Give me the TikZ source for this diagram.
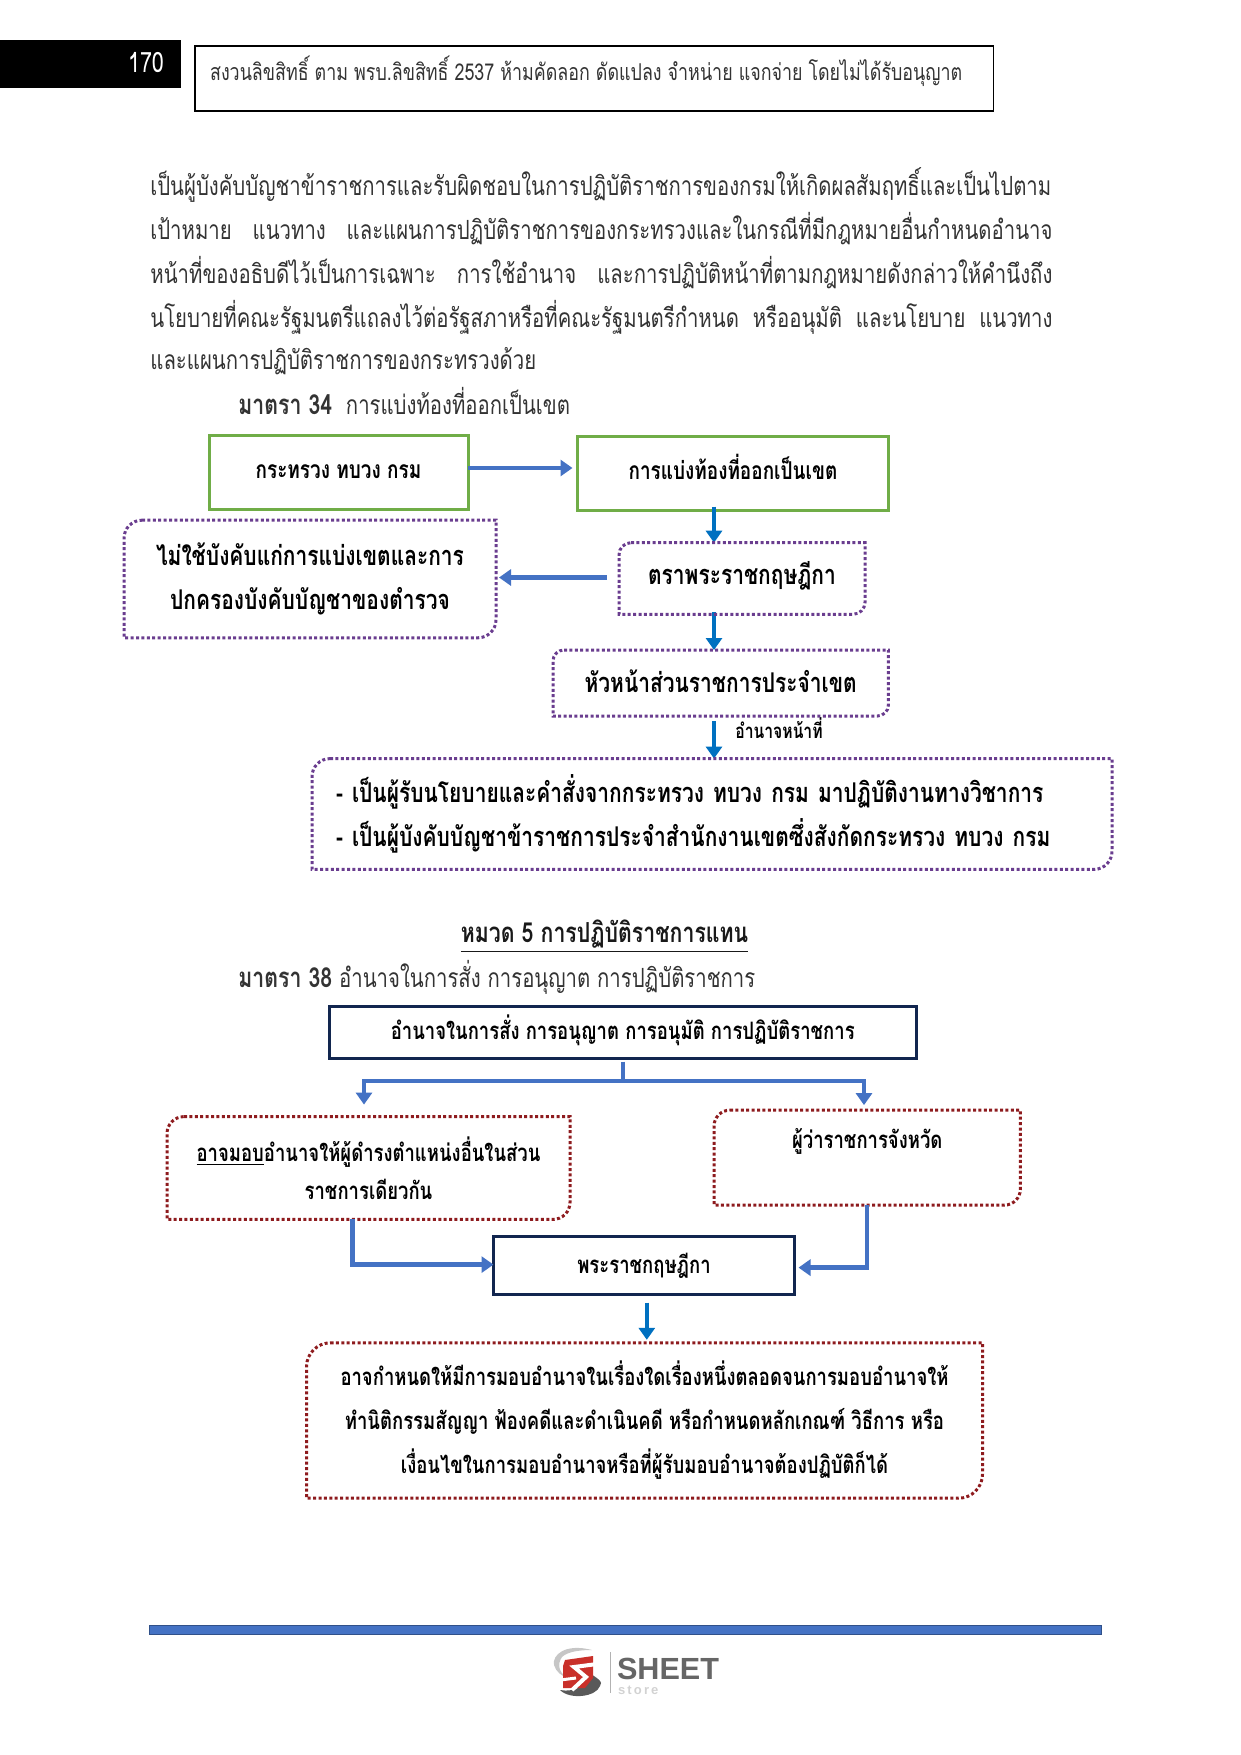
\documentclass[tikz,border=0pt]{standalone}
\usepackage{fontspec}
\setmainfont[Script=Thai,FakeStretch=0.77]{Loma}
\newfontfamily\logofont{Liberation Sans}
\usetikzlibrary{arrows.meta}
\definecolor{SiKhiao}{HTML}{70AD47}
\definecolor{SiMuang}{HTML}{6A3D8F}
\definecolor{SiDaeng}{HTML}{8E1B1E}
\definecolor{SiNam}{HTML}{12264F}
\definecolor{SiFa}{HTML}{4472C4}
\definecolor{SiLuk}{HTML}{0070C0}
\definecolor{SiLogo}{HTML}{C9302A}
\tikzset{
  krob/.style      = {rectangle, inner sep=0pt, outer sep=0pt, align=center, text=black},
  kham/.style      = {text height=9pt, text depth=3pt},
  krobkhiao/.style = {krob, kham, draw=SiKhiao, line width=1.5pt, font=\fontsize{12.3}{19}\selectfont\bfseries},
  krobnam/.style   = {krob, kham, text height=10.5pt, draw=SiNam, line width=1.5pt, font=\fontsize{12}{19}\selectfont\bfseries},
  krobmuang/.style = {krob, font=\fontsize{13.6}{22}\selectfont\bfseries},
  krobdaeng/.style = {krob, font=\fontsize{12}{19}\selectfont\bfseries},
  luk/.style       = {-{Triangle[length=6pt,width=8pt]}, draw=SiFa, line width=2.2pt},
  lukfa/.style     = {-{Triangle[length=6pt,width=8pt]}, draw=SiLuk, line width=2pt},
  bodyline/.style  = {anchor=west, inner sep=0pt, text=black!80, font=\fontsize{13.2}{16}\selectfont},
}
\newcommand{\nakhon}{\fontsize{13.8}{16}\selectfont\bfseries}
\begin{document}
\begin{tikzpicture}[x=0.5pt, y=-0.5pt]
  \useasboundingbox (0,0) rectangle (1241,1755);

  \fill[black] (0,40) rectangle (181,88);
  \node[krob, kham, text=white, font=\fontsize{14}{16}\selectfont] (pagenum) at (146,67) {170};
  \node[krob, draw=black, line width=0.8pt, minimum width=399.2pt, minimum height=32.5pt,
        font=\fontsize{11.6}{14}\selectfont, text=black!80] (header) at (594.2,78.5)
        {\hspace*{-8pt}\raisebox{-0.9pt}[0pt][0pt]{สงวนลิขสิทธิ์ ตาม พรบ.ลิขสิทธิ์ 2537 ห้ามคัดลอก ดัดแปลง จำหน่าย แจกจ่าย โดยไม่ได้รับอนุญาต}};

  \node[bodyline] (l1) at (150,185) {\makebox[451pt][s]{เป็นผู้บังคับบัญชาข้าราชการและรับผิดชอบในการปฏิบัติราชการของกรมให้เกิดผลสัมฤทธิ์และเป็นไปตาม}};
  \node[bodyline] (l2) at (150,229) {\makebox[451pt][s]{เป้าหมาย แนวทาง และแผนการปฏิบัติราชการของกระทรวงและในกรณีที่มีกฎหมายอื่นกำหนดอำนาจ}};
  \node[bodyline] (l3) at (150,273) {\makebox[451pt][s]{หน้าที่ของอธิบดีไว้เป็นการเฉพาะ การใช้อำนาจ และการปฏิบัติหน้าที่ตามกฎหมายดังกล่าวให้คำนึงถึง}};
  \node[bodyline] (l4) at (150,317) {\makebox[451pt][s]{นโยบายที่คณะรัฐมนตรีแถลงไว้ต่อรัฐสภาหรือที่คณะรัฐมนตรีกำหนด หรืออนุมัติ และนโยบาย แนวทาง}};
  \node[bodyline] (l5) at (150,361) {และแผนการปฏิบัติราชการของกระทรวงด้วย};
  \node[bodyline] (m34) at (238,401) {{\nakhon มาตรา 34}\ \ การแบ่งท้องที่ออกเป็นเขต};

  \node[krobkhiao, minimum width=129.5pt, minimum height=37pt] (kt) at (338.5,472) {กระทรวง ทบวง กรม};
  \node[krobkhiao, minimum width=155.5pt, minimum height=37pt] (bk) at (733,473.5) {การแบ่งท้องที่ออกเป็นเขต};
  \node[krobmuang, minimum width=186pt, minimum height=58.8pt] (ym) at (310,579) {ไม่ใช้บังคับแก่การแบ่งเขตและการ\\ปกครองบังคับบัญชาของตำรวจ};
  \node[krobmuang, kham, minimum width=123pt, minimum height=35.8pt] (pk) at (742,578.5) {ตราพระราชกฤษฎีกา};
  \node[krobmuang, kham, text height=12.5pt, minimum width=167.7pt, minimum height=33pt] (hn) at (720.7,683) {หัวหน้าส่วนราชการประจำเขต};
  \node[krobmuang, anchor=west, text width=376pt, inner xsep=12pt, minimum height=55.4pt, align=left]
        (am) at (312,814) {- เป็นผู้รับนโยบายและคำสั่งจากกระทรวง ทบวง กรม มาปฏิบัติงานทางวิชาการ\\- เป็นผู้บังคับบัญชาข้าราชการประจำสำนักงานเขตซึ่งสังกัดกระทรวง ทบวง กรม};
  \node[krob, kham, font=\fontsize{10.2}{12}\selectfont\bfseries] (lbl) at (779,732) {อำนาจหน้าที่};

  \coordinate (sen) at (714,0);
  \draw[luk, shorten >=2.5pt]  ([yshift=2pt]kt.east) -- ([yshift=2pt]kt.east -| bk.west);
  \draw[lukfa, shorten <=-2pt] (bk.south -| sen) -- (pk.north -| sen);
  \draw[luk, shorten <=6pt, shorten >=1.5pt] ([yshift=0.5pt]pk.west) -- ([yshift=0.5pt]pk.west -| ym.east);
  \draw[lukfa, shorten <=-1pt] (pk.south -| sen) -- (hn.north -| sen);
  \draw[lukfa, shorten <=2.5pt] (hn.south -| sen) -- (am.north -| sen);

  \node[krob, kham, text=black!90, font=\nakhon] (h5) at (604.5,936.4) {\underline{หมวด 5 การปฏิบัติราชการแทน}};
  \node[bodyline] (m38) at (238,977) {{\nakhon มาตรา 38} อำนาจในการสั่ง การอนุญาต การปฏิบัติราชการ};

  \node[krobnam, minimum width=293.7pt, minimum height=26.3pt] (an) at (622.7,1032.3) {อำนาจในการสั่ง การอนุญาต การอนุมัติ การปฏิบัติราชการ};
  \node[krobdaeng, minimum width=201.5pt, minimum height=51.4pt] (am2) at (368.5,1168) {\underline{อาจมอบ}อำนาจให้ผู้ดำรงตำแหน่งอื่นในส่วน\\ราชการเดียวกัน};
  \node[krobdaeng, minimum width=153.2pt, minimum height=47.5pt] (pw) at (867.2,1157.6) {ผู้ว่าราชการจังหวัด\\\mbox{}};
  \node[krobnam, minimum width=150.5pt, minimum height=29.1pt] (pr) at (644,1265.6) {พระราชกฤษฎีกา};
  \node[krobdaeng, minimum width=338pt, minimum height=77.7pt, font=\fontsize{12}{22}\selectfont\bfseries] (kg) at (644.5,1420.5)
        {อาจกำหนดให้มีการมอบอำนาจในเรื่องใดเรื่องหนึ่งตลอดจนการมอบอำนาจให้\\ทำนิติกรรมสัญญา ฟ้องคดีและดำเนินคดี หรือกำหนดหลักเกณฑ์ วิธีการ หรือ\\เงื่อนไขในการมอบอำนาจหรือที่ผู้รับมอบอำนาจต้องปฏิบัติก็ได้};

  \foreach \n/\c/\r in {ym/SiMuang/9pt, pk/SiMuang/6pt, hn/SiMuang/5.5pt, am/SiMuang/9pt,
                        am2/SiDaeng/8.5pt, pw/SiDaeng/8pt, kg/SiDaeng/12pt}
    \draw[\c, line width=1.5pt, dash pattern=on 1.5pt off 1.2pt]
      ([xshift=\r]\n.north west) -- (\n.north east) -- ([yshift=\r]\n.south east)
      arc[start angle=0, end angle=-90, radius=\r] -- (\n.south west)
      -- ([yshift=-\r]\n.north west) arc[start angle=180, end angle=90, radius=\r] -- cycle;

  \coordinate (rua) at (622.7,1081);
  \draw[luk, -, shorten <=1.5pt] (an.south) -- (rua);
  \draw[luk, shorten >=6pt] (rua) -| ([xshift=-2.25pt]am2.north);
  \draw[luk, shorten >=2.5pt] (rua) -| ([xshift=-1.6pt]pw.north);
  \draw[luk] ([xshift=-8pt]am2.south) |- ([yshift=0.5pt]pr.west);
  \draw[luk, shorten >=2pt] (pw.south) |- ([yshift=-1pt]pr.east);
  \draw[lukfa, shorten <=4pt, shorten >=1.5pt] ([xshift=1.4pt]pr.south) -- ([xshift=1.15pt]kg.north);

  \fill[SiFa] (149,1625) rectangle (1101,1634);
  \draw[SiFa!70!black, line width=0.5pt] (149,1625) rectangle (1101,1634);

  \fill[gray!45] (592,1650) .. controls (565,1643) and (552,1655) .. (554,1665)
    .. controls (556,1672) and (562,1676) .. (566,1677)
    .. controls (559,1672) and (557,1664) .. (562,1657) .. controls (568,1651) and (582,1650) .. (592,1650) -- cycle;
  \fill[gray!70!black] (560,1690) .. controls (575,1693) and (591,1684) .. (588,1672)
    .. controls (597,1678) and (604,1682) .. (600,1686)
    .. controls (596,1697) and (570,1700) .. (560,1690) -- cycle;
  \fill[SiLogo] (565,1660) -- (593,1656) -- (593,1678) -- (585,1688) -- (563,1688) -- (563,1666) -- cycle;
  \draw[white, line width=2pt] (597,1664) -- (574,1667) -- (586,1677) -- (572,1690);
  \draw[white, line width=1.5pt] (560,1680) -- (576,1678);
  \draw[gray!60, line width=0.5pt] (610,1652) -- (610,1693);
  \node[krob, anchor=west, text=black!60, font=\logofont\fontsize{15.3}{17}\selectfont\bfseries] (sheet) at (617,1669) {SHEET};
  \node[krob, anchor=west, text=gray!35, font=\logofont\fontsize{6.5}{8}\selectfont\bfseries] (store) at (618,1690) {s\,t\,o\,r\,e};
\end{tikzpicture}
\end{document}
